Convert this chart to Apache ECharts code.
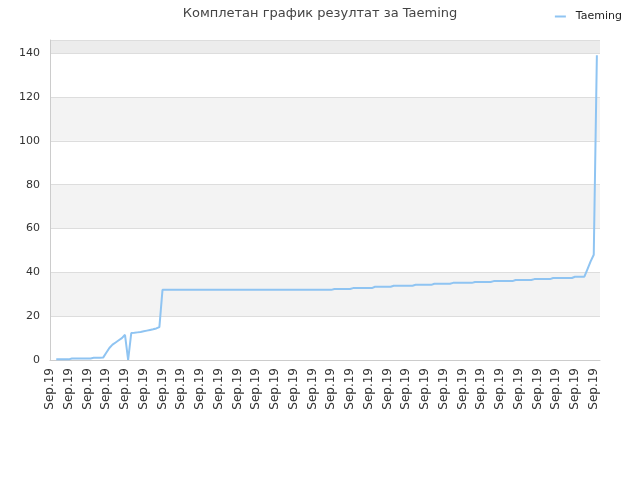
<!DOCTYPE html>
<html>
<head>
<meta charset="utf-8">
<script src="https://cdn.jsdelivr.net/npm/echarts@6/dist/echarts.min.js"></script>
<style>
  html, body { margin: 0; padding: 0; background: #fff; }
  #chart { width: 640px; height: 480px; }
</style>
</head>
<body>
<div id="chart"></div>
<script>
// 177 points, all dated Sep.19
const categories = [];
for (let i = 0; i < 177; i++) categories.push('Sep.19');

const values = [
  null, null, 0.3, 0.3, 0.3, 0.3, 0.3, 0.7, 0.7, 0.7,
  0.7, 0.7, 0.7, 0.7, 1.0, 1.0, 1.0, 1.1, 3.3, 5.5,
  7.0, 8.0, 9.0, 10.0, 11.5, 0, 12.3, 12.4, 12.6, 12.8,
  13.1, 13.4, 13.7, 14.0, 14.4, 15.0, 32, 32, 32, 32,
  32, 32, 32, 32, 32, 32, 32, 32, 32, 32,
  32, 32, 32, 32, 32, 32, 32, 32, 32, 32,
  32, 32, 32, 32, 32, 32, 32, 32, 32, 32,
  32, 32, 32, 32, 32, 32, 32, 32, 32, 32,
  32, 32, 32, 32, 32, 32, 32, 32, 32, 32,
  32, 32.4, 32.4, 32.4, 32.4, 32.4, 32.4, 32.8, 32.8, 32.8,
  32.8, 32.8, 32.8, 32.8, 33.4, 33.4, 33.4, 33.4, 33.4, 33.4,
  33.9, 33.9, 33.9, 33.9, 33.9, 33.9, 33.9, 34.3, 34.3, 34.3,
  34.3, 34.3, 34.3, 34.8, 34.8, 34.8, 34.8, 34.8, 34.8, 35.2,
  35.2, 35.2, 35.2, 35.2, 35.2, 35.2, 35.6, 35.6, 35.6, 35.6,
  35.6, 35.6, 36.0, 36.0, 36.0, 36.0, 36.0, 36.0, 36.0, 36.5,
  36.5, 36.5, 36.5, 36.5, 36.5, 36.9, 36.9, 36.9, 36.9, 36.9,
  36.9, 37.4, 37.4, 37.4, 37.4, 37.4, 37.4, 37.4, 38.0, 38.0,
  38.0, 38.0, 41.5, 45.0, 48.0, 139, null
];

const yTicks = [0, 20, 40, 60, 80, 100, 120, 140];

let myChart = echarts.init(document.getElementById('chart'));
myChart.setOption({
  animation: false,
  title: {
    text: 'Комплетан график резултат за Taeming',
    left: 'center',
    top: 2,
    textStyle: { fontSize: 13, fontWeight: 'normal', color: '#444', fontFamily: 'DejaVu Sans' }
  },
  legend: {
    right: 13,
    top: 6,
    itemWidth: 11,
    itemHeight: 2,
    icon: 'rect',
    textStyle: { fontSize: 11, color: '#222', fontFamily: 'DejaVu Sans', padding: [0, 0, 0, 5] },
    data: ['Taeming']
  },
  grid: { left: 50, right: 40, top: 40, bottom: 120, containLabel: false },
  xAxis: {
    type: 'category',
    data: categories,
    boundaryGap: false,
    axisLine: { lineStyle: { color: '#ccc' } },
    axisTick: { show: false },
    axisLabel: {
      interval: 5,
      rotate: 90,
      color: '#333',
      fontSize: 12,
      fontFamily: 'DejaVu Sans',
      margin: 8
    },
    splitLine: { show: false }
  },
  yAxis: {
    type: 'value',
    min: 0,
    max: 146,
    interval: 20,
    axisLine: { show: true, lineStyle: { color: '#ccc' } },
    axisTick: { show: false },
    axisLabel: {
      color: '#333',
      fontSize: 11,
      fontFamily: 'DejaVu Sans',
      margin: 10,
      showMaxLabel: false,
      formatter: function (v) { return yTicks.indexOf(v) >= 0 ? String(v) : ''; }
    },
    splitLine: { lineStyle: { color: '#ddd' } },
    splitArea: {
      show: true,
      areaStyle: { color: ['#fff', '#f3f3f3', '#fff', '#f3f3f3', '#fff', '#f3f3f3', '#fff', '#ececec'] }
    }
  },
  series: [{
    name: 'Taeming',
    type: 'line',
    data: values,
    showSymbol: false,
    connectNulls: false,
    lineStyle: { color: '#8fc4f2', width: 2 },
    itemStyle: { color: '#8fc4f2' }
  }]
});
</script>
</body>
</html>
